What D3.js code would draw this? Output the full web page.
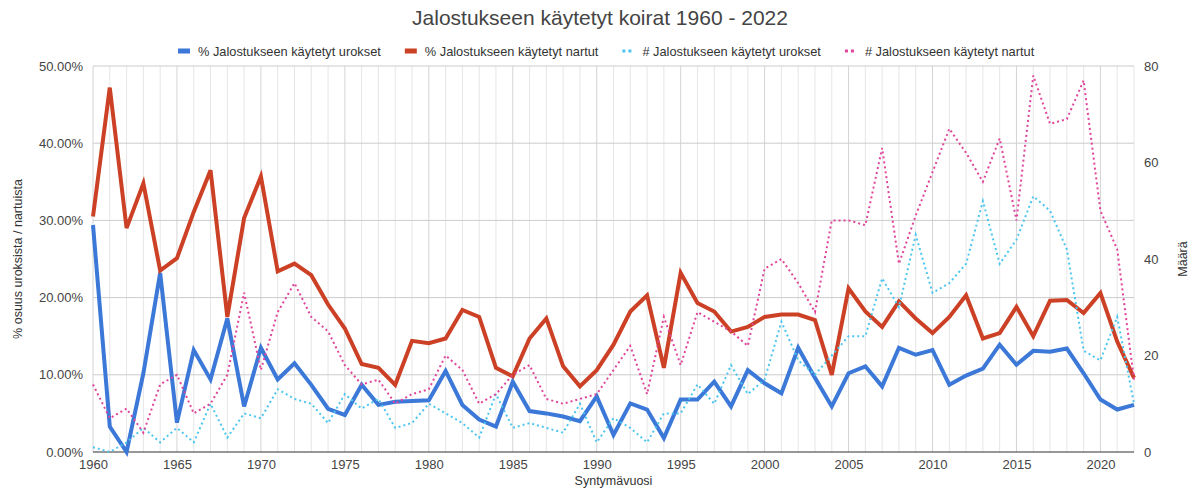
<!DOCTYPE html>
<html>
<head>
<meta charset="utf-8">
<script src="https://cdn.jsdelivr.net/npm/d3@7"></script>
<style>
  body { margin: 0; background: #fff; }
  text { font-family: "Liberation Sans", Arial, sans-serif; }
</style>
</head>
<body>
<div class="chart"></div>
<script>
var years = d3.range(1960, 2023);

// % Jalostukseen käytetyt urokset
var pctMales = [29.4, 3.3, 0.0, 10.2, 23.2, 3.8, 13.2, 9.4, 17.3, 5.9,
  13.5, 9.4, 11.5, 8.7, 5.6, 4.8, 8.7, 6.1, 6.5, 6.6,
  6.7, 10.5, 6.1, 4.2, 3.3, 9.1, 5.3, 5.0, 4.6, 4.0,
  7.2, 2.2, 6.3, 5.5, 1.8, 6.8, 6.8, 9.1, 5.9, 10.6,
  8.9, 7.6, 13.5, 9.6, 5.9, 10.2, 11.1, 8.5, 13.5, 12.6,
  13.2, 8.7, 9.9, 10.8, 13.9, 11.3, 13.1, 13.0, 13.4, 10.2,
  6.8, 5.5, 6.1];

// % Jalostukseen käytetyt nartut
var pctFemales = [30.5, 47.2, 29.0, 34.8, 23.5, 25.1, 31.1, 36.5, 17.5, 30.3,
  35.7, 23.4, 24.4, 22.9, 19.1, 16.0, 11.4, 10.9, 8.7, 14.4,
  14.1, 14.7, 18.4, 17.5, 10.9, 9.8, 14.7, 17.3, 11.1, 8.5,
  10.6, 13.9, 18.2, 20.3, 10.9, 23.2, 19.3, 18.2, 15.6, 16.2,
  17.5, 17.8, 17.8, 17.1, 10.0, 21.2, 18.2, 16.2, 19.5, 17.3,
  15.4, 17.5, 20.3, 14.7, 15.4, 18.8, 15.0, 19.6, 19.7, 18.0,
  20.6, 14.3, 9.6];

// # Jalostukseen käytetyt urokset
var nMales = [1, 0, 2, 5, 2, 5, 2, 10, 3, 8,
  7, 13, 11, 10, 6, 12, 9, 11, 5, 6,
  10, 8, 6, 3, 12, 5, 6, 5, 4, 10,
  2, 7, 5, 2, 8, 8, 14, 10, 18, 12,
  15, 27, 19, 16, 20, 24, 24, 36, 30, 45,
  33, 35, 39, 52, 39, 44, 53, 50, 42, 21,
  19, 28, 10];

// # Jalostukseen käytetyt nartut
var nFemales = [14, 7, 9, 4, 14, 16, 8, 10, 16, 33,
  17, 29, 35, 28, 25, 18, 14, 15, 10, 12,
  13, 20, 17, 10, 12, 16, 18, 11, 10, 11,
  12, 17, 22, 12, 28, 18, 29, 27, 25, 22,
  38, 40, 35, 29, 48, 48, 47, 63, 39, 49,
  58, 67, 62, 56, 65, 48, 78, 68, 69, 77,
  50, 42, 15];

var leftTicks = [0, 10, 20, 30, 40, 50];
var rightTicks = [0, 20, 40, 60, 80];
var xTicks = d3.range(1960, 2021, 5);

var series = [
  { name: "% Jalostukseen käytetyt urokset", values: pctMales, axis: "left", color: "#3b78d8", dotted: false },
  { name: "% Jalostukseen käytetyt nartut", values: pctFemales, axis: "left", color: "#cc4125", dotted: false },
  { name: "# Jalostukseen käytetyt urokset", values: nMales, axis: "right", color: "#4cc6ee", dotted: true },
  { name: "# Jalostukseen käytetyt nartut", values: nFemales, axis: "right", color: "#e0449b", dotted: true }
];

var width = 1199,
    height = 490;
var margin = { top: 66, right: 65, bottom: 38, left: 93 };

var svg = d3.select(".chart").append("svg")
    .attr("width", width)
    .attr("height", height);

var x = d3.scaleLinear().domain([1960, 2022]).range([margin.left, width - margin.right]);
var yL = d3.scaleLinear().domain([0, 50]).range([height - margin.bottom, margin.top]);
var yR = d3.scaleLinear().domain([0, 80]).range([height - margin.bottom, margin.top]);

// vertical grid, one per year
svg.append("g")
  .selectAll("line")
  .data(years)
  .enter().append("line")
    .attr("x1", function(d) { return x(d); })
    .attr("x2", function(d) { return x(d); })
    .attr("y1", yL(50))
    .attr("y2", yL(0))
    .attr("stroke", function(d) { return d % 5 == 0 ? "#d4d4d4" : "#e6e6e6"; })
    .attr("stroke-width", 1);

// horizontal grid
svg.append("g")
  .selectAll("line")
  .data(leftTicks.slice(1))
  .enter().append("line")
    .attr("x1", x(1960))
    .attr("x2", x(2022))
    .attr("y1", function(d) { return yL(d); })
    .attr("y2", function(d) { return yL(d); })
    .attr("stroke", "#cccccc");

// baseline
svg.append("line")
    .attr("x1", x(1960)).attr("x2", x(2022))
    .attr("y1", yL(0)).attr("y2", yL(0))
    .attr("stroke", "#333").attr("stroke-width", 1.2);

// axes
var gl = svg.append("g")
    .attr("transform", "translate(" + (margin.left - 7) + ",0)")
    .call(d3.axisLeft(yL).tickValues(leftTicks).tickSize(0).tickFormat(function(d) { return d3.format(".2f")(d) + "%"; }));
var gr = svg.append("g")
    .attr("transform", "translate(" + (width - margin.right + 7) + ",0)")
    .call(d3.axisRight(yR).tickValues(rightTicks).tickSize(0));
var gx = svg.append("g")
    .attr("transform", "translate(0," + (height - margin.bottom + 5) + ")")
    .call(d3.axisBottom(x).tickValues(xTicks).tickSize(0).tickFormat(d3.format("d")));

[gl, gr, gx].forEach(function(g) {
  g.select(".domain").remove();
  g.selectAll("text")
    .attr("fill", "#444")
    .style("font-size", "13px");
});

// lines
series.forEach(function(s) {
  var y = s.axis == "left" ? yL : yR;
  var line = d3.line()
    .x(function(d, i) { return x(years[i]); })
    .y(function(d) { return y(d); });
  svg.append("path")
    .datum(s.values)
    .attr("fill", "none")
    .attr("stroke", s.color)
    .attr("stroke-width", s.dotted ? 2 : 4)
    .attr("stroke-dasharray", s.dotted ? "2,3" : null)
    .attr("stroke-linejoin", "miter")
    .attr("d", line);
});

// title
svg.append("text")
    .attr("x", 600)
    .attr("y", 25)
    .attr("text-anchor", "middle")
    .attr("fill", "#444")
    .style("font-size", "21px")
    .text("Jalostukseen käytetyt koirat 1960 - 2022");

// legend
var legend = svg.append("g").attr("transform", "translate(0,51)");
var lx = 178;
series.forEach(function(s) {
  var g = legend.append("g").attr("transform", "translate(" + lx + ",0)");
  if (s.dotted) {
    g.append("line").attr("x1", 0).attr("x2", 12).attr("y1", 0).attr("y2", 0)
      .attr("stroke", s.color).attr("stroke-width", 3).attr("stroke-dasharray", "3,3");
  } else {
    g.append("rect").attr("x", 0).attr("y", -2.5).attr("width", 12).attr("height", 5)
      .attr("fill", s.color);
  }
  var t = g.append("text")
    .attr("x", 20).attr("y", 4.5)
    .attr("fill", "#333")
    .style("font-size", "12.8px")
    .text(s.name);
  lx += 20 + t.node().getComputedTextLength() + 24;
});

// axis titles
svg.append("text")
    .attr("transform", "translate(22," + ((yL(0) + yL(50)) / 2) + ") rotate(-90)")
    .attr("text-anchor", "middle")
    .attr("fill", "#333")
    .style("font-size", "12.5px")
    .text("% osuus uroksista / nartuista");
svg.append("text")
    .attr("transform", "translate(1187," + ((yL(0) + yL(50)) / 2) + ") rotate(-90)")
    .attr("text-anchor", "middle")
    .attr("fill", "#333")
    .style("font-size", "12.5px")
    .text("Määrä");
svg.append("text")
    .attr("x", (x(1960) + x(2022)) / 2)
    .attr("y", 485)
    .attr("text-anchor", "middle")
    .attr("fill", "#333")
    .style("font-size", "12.5px")
    .text("Syntymävuosi");
</script>
</body>
</html>
